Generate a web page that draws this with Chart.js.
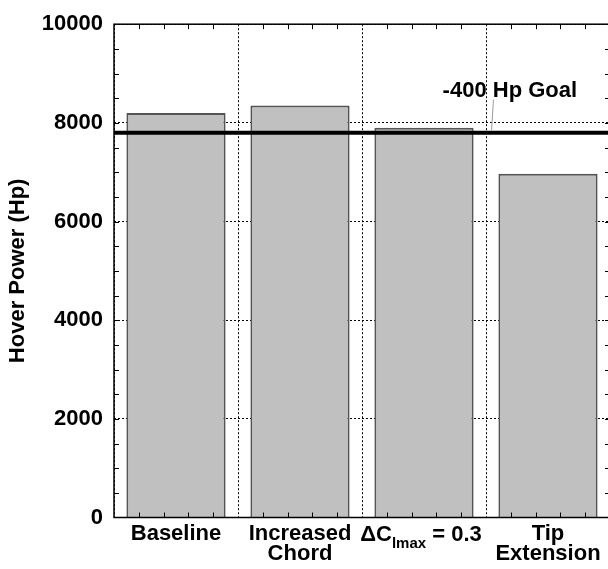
<!DOCTYPE html>
<html>
<head>
<meta charset="utf-8">
<script src="https://cdn.jsdelivr.net/npm/chart.js@4.4.1/dist/chart.umd.min.js"></script>
<style>
  html, body { margin: 0; padding: 0; background: #fff; overflow: hidden; }
  #wrap { position: absolute; left: 0; top: 0; width: 612px; height: 569px; }
</style>
</head>
<body>
<div id="wrap"><canvas id="hoverChart"></canvas></div>
<script>
// rotor configurations and their hover power
const categories = [['Baseline'], ['Increased', 'Chord'], ['\u0394Clmax = 0.3'], ['Tip', 'Extension']];
const hoverPower = [8200, 8350, 7900, 6970];
const yTicks = [0, 2000, 4000, 6000, 8000, 10000];
const goalPower = 7800;
const goalText = '-400 Hp Goal';
// third label needs a subscript, drawn by hand
const deltaLabel = { index: 2, main: '\u0394C', sub: 'lmax', rest: ' = 0.3' };

const FONT = "'Liberation Sans', Arial, Helvetica, sans-serif";
const SIZE = 22;
const font = (size) => ({ family: FONT, size: size, weight: 'bold' });

const framePlugin = {
  id: 'frame',
  afterDatasetsDraw(chart) {
    const { ctx, chartArea: a, scales: { x, y } } = chart;
    ctx.save();

    // goal line
    const gy = y.getPixelForValue(goalPower);
    ctx.strokeStyle = '#000';
    ctx.lineWidth = 4;
    ctx.beginPath();
    ctx.moveTo(a.left, gy);
    ctx.lineTo(a.right, gy);
    ctx.stroke();

    // inside tick marks
    ctx.lineWidth = 1;
    ctx.beginPath();
    for (let v = 500; v < 10000; v += 500) {
      const py = Math.round(y.getPixelForValue(v)) + 0.5;
      ctx.moveTo(a.left, py); ctx.lineTo(a.left + 5, py);
      ctx.moveTo(a.right, py); ctx.lineTo(a.right - 5, py);
    }
    const cat = x.getPixelForValue(1) - x.getPixelForValue(0);
    for (let i = 0; i < categories.length; i++) {
      const start = x.getPixelForValue(i) - cat / 2;
      for (let k = 1; k < 5; k++) {
        const px = Math.round(start + cat * k / 5) + 0.5;
        ctx.moveTo(px, a.top); ctx.lineTo(px, a.top + 5);
        ctx.moveTo(px, a.bottom); ctx.lineTo(px, a.bottom - 5);
      }
    }
    ctx.stroke();

    // frame
    ctx.lineWidth = 1.5;
    ctx.strokeRect(a.left, a.top, a.right - a.left, a.bottom - a.top);

    // goal annotation and leader
    const lx = x.getPixelForValue(2) + cat * 0.15;
    ctx.fillStyle = '#000';
    ctx.font = 'bold ' + SIZE + 'px ' + FONT;
    ctx.textAlign = 'left';
    ctx.textBaseline = 'alphabetic';
    ctx.fillText(goalText, lx, y.getPixelForValue(8530));
    ctx.strokeStyle = '#999';
    ctx.lineWidth = 1;
    ctx.beginPath();
    ctx.moveTo(x.getPixelForValue(2) + cat * 0.56, y.getPixelForValue(8470));
    ctx.lineTo(x.getPixelForValue(2) + cat * 0.545, y.getPixelForValue(7850));
    ctx.stroke();

    // subscript category label
    const cx = x.getPixelForValue(deltaLabel.index);
    const by = a.bottom + 23;
    ctx.font = 'bold ' + SIZE + 'px ' + FONT;
    const w1 = ctx.measureText(deltaLabel.main).width;
    const w3 = ctx.measureText(deltaLabel.rest).width;
    ctx.font = 'bold 15px ' + FONT;
    const w2 = ctx.measureText(deltaLabel.sub).width;
    let sx = cx - (w1 + w2 + w3) / 2 - 3;
    ctx.font = 'bold ' + SIZE + 'px ' + FONT;
    ctx.fillText(deltaLabel.main, sx, by);
    sx += w1;
    ctx.font = 'bold 15px ' + FONT;
    ctx.fillText(deltaLabel.sub, sx, by + 7);
    sx += w2;
    ctx.font = 'bold ' + SIZE + 'px ' + FONT;
    ctx.fillText(deltaLabel.rest, sx, by);

    ctx.restore();
  }
};

new Chart(document.getElementById('hoverChart'), {
  type: 'bar',
  data: {
    labels: categories,
    datasets: [{
      data: hoverPower,
      backgroundColor: '#c0c0c0',
      borderColor: '#555',
      borderWidth: 2,
      barPercentage: 0.8,
      categoryPercentage: 1
    }]
  },
  options: {
    responsive: true,
    maintainAspectRatio: false,
    animation: false,
    layout: { padding: { top: 11, right: 2, left: 0, bottom: 0 } },
    plugins: { legend: { display: false }, tooltip: { enabled: false } },
    scales: {
      x: {
        grid: { color: '#000', lineWidth: 1, drawTicks: false },
        border: { display: false, dash: [2, 2] },
        ticks: {
          color: (c) => (c.index === deltaLabel.index ? 'rgba(0,0,0,0)' : '#000'),
          font: { family: FONT, size: SIZE, weight: 'bold', lineHeight: 0.9 },
          padding: 7,
          maxRotation: 0,
          autoSkip: false
        },
        afterFit: (s) => { s.height = 51.5; }
      },
      y: {
        min: 0,
        max: 10000,
        afterBuildTicks: (s) => { s.ticks = yTicks.map((v) => ({ value: v })); },
        grid: { color: '#000', lineWidth: 1, drawTicks: false },
        border: { display: false, dash: [2, 2] },
        ticks: { color: '#000', font: font(SIZE), padding: 11, callback: (v) => String(v) },
        title: {
          display: true,
          text: 'Hover Power (Hp)',
          color: '#000',
          font: font(SIZE),
          padding: { top: 5, bottom: 4 }
        },
        afterFit: (s) => { s.width = 114; }
      }
    }
  },
  plugins: [framePlugin]
});
</script>
</body>
</html>
